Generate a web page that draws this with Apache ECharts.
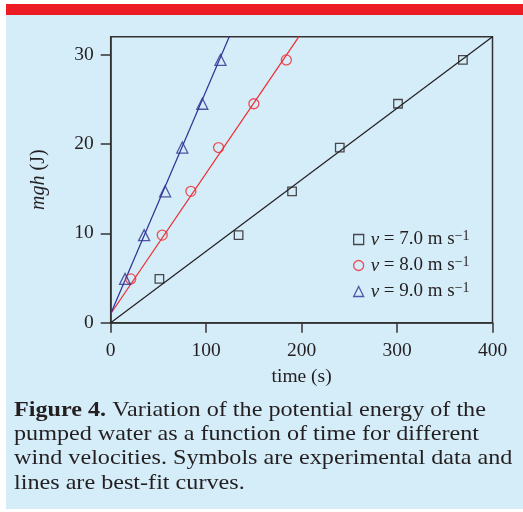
<!DOCTYPE html>
<html><head><meta charset="utf-8">
<script src="https://cdn.jsdelivr.net/npm/echarts@6/dist/echarts.min.js"></script>
<style>html,body{margin:0;padding:0;background:#fff}#c{width:523px;height:512px}</style>
</head><body><div id="c"></div>
<script>
// Data
const mghValues = [4.9, 9.8, 14.7, 19.6, 24.5, 29.4];
const time7 = [51, 134, 190, 240, 301, 369];
const time8 = [21, 54, 84, 113, 150, 184];
const time9 = [15, 35, 57, 75, 96, 115];
const fit7 = [[0, 0], [400, 32]];
const fit8 = [[0, 1.0], [197.2, 32]];
const fit9 = [[0, 1.0], [124.2, 32]];
const xTicks = [0, 100, 200, 300, 400];
const yTicks = [0, 10, 20, 30];
const seriesNames = ['v7', 'v8', 'v9'];
const legendLabels = {v7: '7.0', v8: '8.0', v9: '9.0'};
const captionLines = [
  '{b|Figure 4.} Variation of the potential energy of the',
  'pumped water as a function of time for different',
  'wind velocities. Symbols are experimental data and',
  'lines are best-fit curves.'
];

const FONT = '"Liberation Serif", "Times New Roman", serif';
const BLACK = '#231f20', RED = '#ee2a2f', BLUE = '#2e3192';
const pts = (xs) => xs.map((x, i) => [x, mghValues[i]]);

const chart = echarts.init(document.getElementById('c'), null, {renderer: 'canvas'});
const scatter = (name, xs, symbol, size, color) => ({
  name, type: 'scatter', data: pts(xs), symbol, symbolSize: size,
  itemStyle: {color: 'rgba(0,0,0,0)', borderColor: color, borderWidth: 1.3},
  z: 5, silent: true
});
const fitLine = (data, color) => ({
  type: 'line', data, showSymbol: false, symbol: 'none', silent: true,
  lineStyle: {color, width: 1.2}, z: 3
});

chart.setOption({
  animation: false,
  backgroundColor: '#ffffff',
  graphic: [
    {type: 'rect', shape: {x: 6, y: 4, width: 517, height: 11}, style: {fill: '#ed1c24'}, z: -10},
    {type: 'rect', shape: {x: 6, y: 15, width: 517, height: 494}, style: {fill: '#d5ecf9'}, z: -10},
    {type: 'text', x: 14, y: 398, scaleX: 1.15, originX: 0, originY: 0, z: 10,
      style: {x: 0, y: 0, text: captionLines.join('\n'), font: '21px ' + FONT, fill: BLACK, lineHeight: 24.3,
        verticalAlign: 'top', align: 'left',
        rich: {b: {fontWeight: 'bold', fontSize: 21, fontFamily: FONT, fill: BLACK, lineHeight: 24.3}}}}
  ],
  grid: {left: 110.7, right: 30.5, top: 36.7, bottom: 189.3, show: true,
    borderColor: '#333', borderWidth: 1.5, backgroundColor: 'transparent'},
  xAxis: {
    type: 'value', min: 0, max: 400, interval: 100,
    name: 'time (s)', nameLocation: 'middle', nameGap: 44,
    nameTextStyle: {fontFamily: FONT, fontSize: 19.5, color: BLACK},
    axisLine: {lineStyle: {color: '#333', width: 1.5}},
    axisTick: {length: 10, lineStyle: {color: '#333', width: 1.5}, customValues: xTicks},
    axisLabel: {fontFamily: FONT, fontSize: 19.5, color: BLACK, margin: 18, customValues: xTicks},
    splitLine: {show: false}
  },
  yAxis: {
    type: 'value', min: 0, max: 32, interval: 10,
    name: '{i|mgh} (J)', nameLocation: 'middle', nameGap: 62, nameRotate: 90,
    nameTextStyle: {fontFamily: FONT, fontSize: 20, color: BLACK,
      rich: {i: {fontStyle: 'italic', fontFamily: FONT, fontSize: 20, color: BLACK}}},
    axisLine: {lineStyle: {color: '#333', width: 1.5}},
    axisTick: {length: 10, lineStyle: {color: '#333', width: 1.5}, customValues: yTicks},
    axisLabel: {fontFamily: FONT, fontSize: 19.5, color: BLACK, margin: 17, customValues: yTicks},
    splitLine: {show: false}
  },
  legend: {
    data: seriesNames, orient: 'vertical', left: 348, top: 224,
    itemWidth: 10, itemHeight: 10, itemGap: 5, itemStyle: {borderWidth: 1.3},
    formatter: (n) => '{g| }{i|v} = ' + legendLabels[n] + ' m s{s|\u22121}',
    textStyle: {fontFamily: FONT, fontSize: 19, color: BLACK, lineHeight: 21,
      rich: {
        g: {fontFamily: FONT, fontSize: 8, lineHeight: 21},
        i: {fontStyle: 'italic', fontFamily: FONT, fontSize: 19, color: BLACK, lineHeight: 21},
        s: {fontFamily: FONT, fontSize: 14, color: BLACK, verticalAlign: 'top', lineHeight: 12}
      }},
    selectedMode: false
  },
  series: [
    fitLine(fit7, BLACK), fitLine(fit8, RED), fitLine(fit9, BLUE),
    scatter('v7', time7, 'rect', 8.5, BLACK),
    scatter('v8', time8, 'circle', 10, RED),
    scatter('v9', time9, 'triangle', 11, BLUE)
  ]
});
</script></body></html>
